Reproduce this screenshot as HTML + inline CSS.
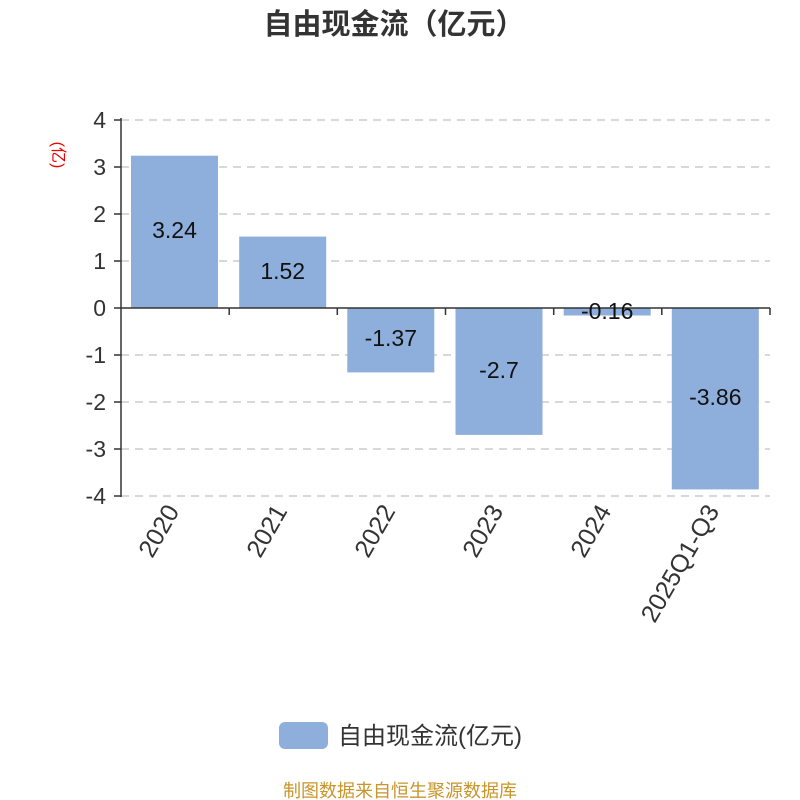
<!DOCTYPE html>
<html><head><meta charset="utf-8"><style>
html,body{margin:0;padding:0;background:#fff;}
svg{display:block;font-family:"Liberation Sans","Noto Sans CJK SC",sans-serif;}
</style></head><body>
<svg width="800" height="800" viewBox="0 0 800 800" xmlns="http://www.w3.org/2000/svg">
<rect width="800" height="800" fill="#fff"/>
<text x="394" y="34" text-anchor="middle" font-size="29" font-weight="bold" fill="#333">自由现金流（亿元）</text>
<g stroke="#ccc" stroke-width="1.5" stroke-dasharray="8,6">
<line x1="121" y1="120" x2="770" y2="120"/>
<line x1="121" y1="167" x2="770" y2="167"/>
<line x1="121" y1="214" x2="770" y2="214"/>
<line x1="121" y1="261" x2="770" y2="261"/>
<line x1="121" y1="355" x2="770" y2="355"/>
<line x1="121" y1="402" x2="770" y2="402"/>
<line x1="121" y1="449" x2="770" y2="449"/>
<line x1="121" y1="496" x2="770" y2="496"/>
</g>
<g fill="#8eaedb">
<rect x="131" y="155.7" width="87" height="152.3"/>
<rect x="239.2" y="236.6" width="87" height="71.4"/>
<rect x="347.3" y="308" width="87" height="64.4"/>
<rect x="455.5" y="308" width="87" height="126.9"/>
<rect x="563.7" y="308" width="87" height="7.5"/>
<rect x="671.8" y="308" width="87" height="181.4"/>
</g>
<g stroke="#333" stroke-width="1.5">
<line x1="121" y1="118" x2="121" y2="497"/>
<line x1="121" y1="308" x2="770" y2="308"/>
<line x1="114" y1="120" x2="121" y2="120"/>
<line x1="114" y1="167" x2="121" y2="167"/>
<line x1="114" y1="214" x2="121" y2="214"/>
<line x1="114" y1="261" x2="121" y2="261"/>
<line x1="114" y1="308" x2="121" y2="308"/>
<line x1="114" y1="355" x2="121" y2="355"/>
<line x1="114" y1="402" x2="121" y2="402"/>
<line x1="114" y1="449" x2="121" y2="449"/>
<line x1="114" y1="496" x2="121" y2="496"/>
<line x1="229.2" y1="308" x2="229.2" y2="315"/>
<line x1="337.3" y1="308" x2="337.3" y2="315"/>
<line x1="445.5" y1="308" x2="445.5" y2="315"/>
<line x1="553.7" y1="308" x2="553.7" y2="315"/>
<line x1="661.8" y1="308" x2="661.8" y2="315"/>
<line x1="770" y1="308" x2="770" y2="315"/>
</g>
<g font-size="23" fill="#333" text-anchor="end">
<text x="106" y="128">4</text>
<text x="106" y="175">3</text>
<text x="106" y="222">2</text>
<text x="106" y="269">1</text>
<text x="106" y="316">0</text>
<text x="106" y="363">-1</text>
<text x="106" y="410">-2</text>
<text x="106" y="457">-3</text>
<text x="106" y="504">-4</text>
</g>
<text transform="translate(53,155) rotate(90)" text-anchor="middle" font-size="16" fill="#e00">(亿)</text>
<g font-size="23" fill="#111" text-anchor="middle">
<text x="174.5" y="238">3.24</text>
<text x="282.7" y="279">1.52</text>
<text x="390.8" y="346">-1.37</text>
<text x="499" y="378">-2.7</text>
<text x="607.2" y="319">-0.16</text>
<text x="715.3" y="405">-3.86</text>
</g>
<g font-size="25" fill="#333" text-anchor="end">
<text transform="translate(180,511) rotate(-60)">2020</text>
<text transform="translate(288,511) rotate(-60)">2021</text>
<text transform="translate(396,511) rotate(-60)">2022</text>
<text transform="translate(504,511) rotate(-60)">2023</text>
<text transform="translate(612,511) rotate(-60)">2024</text>
<text transform="translate(720,511) rotate(-60)">2025Q1-Q3</text>
</g>
<rect x="279" y="722" width="49" height="27" rx="6" fill="#8eaedb"/>
<text x="338" y="744" font-size="24" fill="#333">自由现金流(亿元)</text>
<text x="400" y="797" text-anchor="middle" font-size="18" fill="#c8952a">制图数据来自恒生聚源数据库</text>
</svg>
</body></html>
